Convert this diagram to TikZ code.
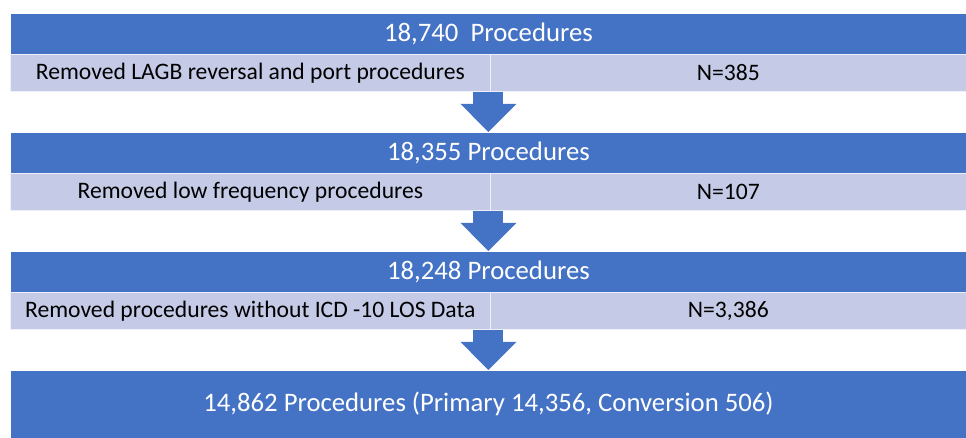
\documentclass[tikz,border=0pt]{standalone}
\usepackage{fontspec}
\setmainfont{Carlito}
\usetikzlibrary{arrows.meta}
\definecolor{barblue}{RGB}{68,114,196}
\definecolor{cellblue}{RGB}{197,203,231}

\begin{document}
\begin{tikzpicture}[x=0.025cm,y=-0.025cm,
    headbar/.style={anchor=north west,fill=barblue,draw=white,line width=0.4pt,text=white,
      font=\fontsize{19}{23}\selectfont,inner sep=0pt,minimum width=23.9cm,minimum height=1.025cm},
    cutcell/.style={anchor=north west,fill=cellblue,draw=white!70!cellblue,line width=0.4pt,text=black,
      font=\fontsize{16.8}{20}\selectfont,inner sep=0pt,minimum height=0.925cm},
    flowarrow/.style={barblue,line width=21.3pt,
      -{Triangle[width=39.8pt,length=20pt,line width=0pt]}}]
  \useasboundingbox (0,0) rectangle (966,438);
  % first count
  \node[headbar] (head1) at (10,13) {18,740\ \ Procedures};
  \node[cutcell,minimum width=12cm] (left1) at (10,54) {Removed LAGB reversal and port procedures};
  \node[cutcell,minimum width=11.9cm] (right1) at (490,54) {N=385};
  % second count
  \node[headbar] (head2) at (10,132) {18,355 Procedures};
  \node[cutcell,minimum width=12cm] (left2) at (10,173) {Removed low frequency procedures};
  \node[cutcell,minimum width=11.9cm] (right2) at (490,173) {N=107};
  % third count
  \node[headbar] (head3) at (10,251) {18,248 Procedures};
  \node[cutcell,minimum width=12cm] (left3) at (10,292) {Removed procedures without ICD -10 LOS Data};
  \node[cutcell,minimum width=11.9cm] (right3) at (490,292) {N=3,386};
  % final count
  \node[headbar,minimum height=1.7cm] (final) at (10,370) {14,862 Procedures (Primary 14,356, Conversion 506)};
  \draw[flowarrow] (left1.south -| head1.south) -- (head2.north);
  \draw[flowarrow] (left2.south -| head2.south) -- (head3.north);
  \draw[flowarrow] (left3.south -| head3.south) -- (final.north);
\end{tikzpicture}
\end{document}
